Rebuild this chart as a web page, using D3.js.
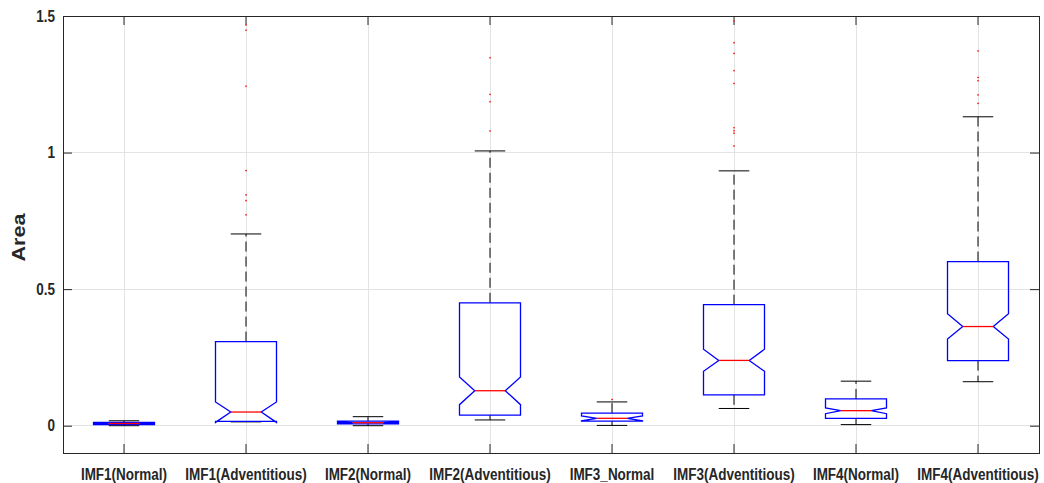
<!DOCTYPE html>
<html><head><meta charset="utf-8">
<script src="https://cdn.jsdelivr.net/npm/d3@7"></script>
<style>body{margin:0;background:#fff}text{font-family:"Liberation Sans",Arial,sans-serif;font-weight:bold;fill:#262626}</style>
</head><body><svg id="c" width="1044" height="483"></svg>
<script>
const categories = ["IMF1(Normal)","IMF1(Adventitious)","IMF2(Normal)","IMF2(Adventitious)","IMF3_Normal","IMF3(Adventitious)","IMF4(Normal)","IMF4(Adventitious)"];
const whiskerLow  = [0.000, 0.014, 0.000, 0.021, 0.001, 0.063, 0.004, 0.161];
const q1          = [0.004, 0.016, 0.007, 0.039, 0.017, 0.113, 0.027, 0.238];
const notchLow    = [0.006, 0.012, 0.009, 0.077, 0.018, 0.199, 0.044, 0.317];
const median      = [0.008, 0.050, 0.011, 0.128, 0.027, 0.239, 0.055, 0.363];
const notchHigh   = [0.010, 0.087, 0.013, 0.178, 0.036, 0.280, 0.065, 0.410];
const q3          = [0.012, 0.308, 0.017, 0.450, 0.046, 0.443, 0.098, 0.601];
const whiskerHigh = [0.018, 0.702, 0.033, 1.006, 0.087, 0.933, 0.163, 1.131];
const outliers = [
  [],
  [1.467, 1.448, 1.243, 0.934, 0.845, 0.824, 0.772],
  [],
  [1.347, 1.213, 1.186, 1.079],
  [0.096],
  [1.482, 1.402, 1.363, 1.300, 1.253, 1.091, 1.080, 1.071, 1.024],
  [],
  [1.372, 1.275, 1.263, 1.211, 1.180]
];
const yTicks = [0, 0.5, 1, 1.5];
const yTickLabels = ["0", "0.5", "1", "1.5"];
const yTitle = "Area";

const svg = d3.select("#c");
const L = 63, R = 1039, T = 16, B = 453;
const x = d3.scaleBand().domain(categories).range([L, R]).paddingInner(0).paddingOuter(0);
const y = d3.scaleLinear().domain([-0.1, 1.5]).range([B, T]);
const cx = c => x(c) + x.bandwidth() / 2;
const w = x.bandwidth() * 0.25, nw = w / 2, capW = w / 2;

// grid
const g = svg.append("g");
g.selectAll(".gy").data(yTicks).join("line")
  .attr("x1", L).attr("x2", R).attr("y1", d => y(d)).attr("y2", d => y(d))
  .attr("stroke", "#e3e3e3").attr("stroke-width", 1).attr("shape-rendering", "crispEdges");
g.selectAll(".gx").data(categories).join("line")
  .attr("x1", d => cx(d)).attr("x2", d => cx(d)).attr("y1", T).attr("y2", B)
  .attr("stroke", "#e3e3e3").attr("stroke-width", 1).attr("shape-rendering", "crispEdges");

// axes
const axL = svg.append("g").attr("transform", `translate(${L},0)`)
  .call(d3.axisLeft(y).tickValues(yTicks).tickFormat((d, i) => yTickLabels[i]).tickSizeInner(-9).tickSizeOuter(0).tickPadding(8));
const axR = svg.append("g").attr("transform", `translate(${R},0)`)
  .call(d3.axisRight(y).tickValues(yTicks).tickFormat("").tickSizeInner(-9).tickSizeOuter(0));
const axB = svg.append("g").attr("transform", `translate(0,${B})`)
  .call(d3.axisBottom(x).tickSizeInner(-9).tickSizeOuter(0).tickPadding(13));
const axT = svg.append("g").attr("transform", `translate(0,${T})`)
  .call(d3.axisTop(x).tickFormat("").tickSizeInner(-9).tickSizeOuter(0));
[axL, axR, axB, axT].forEach(a => {
  a.select(".domain").remove();
  a.selectAll("line").attr("stroke", "#262626");
});
axL.selectAll(".tick text").attr("font-size", 13.5).attr("fill", "#262626").attr("dy", "0.32em")
  .attr("transform", "scale(1,1.2)");
axB.selectAll("text").attr("font-size", 13.5).attr("fill", "#262626").attr("dy", "0.71em")
  .attr("transform", "scale(1,1.2)");
svg.append("rect").attr("x", L).attr("y", T).attr("width", R - L).attr("height", B - T)
  .attr("fill", "none").attr("stroke", "#262626").attr("stroke-width", 1).attr("shape-rendering", "crispEdges");

svg.append("text").attr("transform", `translate(25,${(T + B) / 2 + 3}) rotate(-90) scale(1.2,1)`)
  .attr("text-anchor", "middle").attr("font-size", 18).text(yTitle);

// boxes
const bx = svg.append("g");
categories.forEach((c, i) => {
  const xc = cx(c);
  bx.append("line").attr("x1", xc).attr("x2", xc).attr("y1", y(q3[i])).attr("y2", y(whiskerHigh[i]))
    .attr("stroke", "#000").attr("stroke-dasharray", "10,5").attr("stroke-width", 1);
  bx.append("line").attr("x1", xc).attr("x2", xc).attr("y1", y(q1[i])).attr("y2", y(whiskerLow[i]))
    .attr("stroke", "#000").attr("stroke-dasharray", "10,5").attr("stroke-width", 1);
  [whiskerHigh[i], whiskerLow[i]].forEach(v => {
    bx.append("line").attr("x1", xc - capW).attr("x2", xc + capW).attr("y1", y(v)).attr("y2", y(v))
      .attr("stroke", "#000").attr("stroke-width", 1);
  });
  const pts = [
    [xc - w, y(q1[i])], [xc - w, y(notchLow[i])], [xc - nw, y(median[i])], [xc - w, y(notchHigh[i])],
    [xc - w, y(q3[i])], [xc + w, y(q3[i])], [xc + w, y(notchHigh[i])], [xc + nw, y(median[i])],
    [xc + w, y(notchLow[i])], [xc + w, y(q1[i])]
  ];
  bx.append("path").attr("d", d3.line()(pts) + "Z").attr("fill", "none")
    .attr("stroke", "#0000ff").attr("stroke-width", 1.3).attr("stroke-linejoin", "miter");
  bx.append("line").attr("x1", xc - nw).attr("x2", xc + nw).attr("y1", y(median[i])).attr("y2", y(median[i]))
    .attr("stroke", "#ff0000").attr("stroke-width", 1.3);
  outliers[i].forEach(v => {
    bx.append("line").attr("x1", xc - 1).attr("x2", xc + 1).attr("y1", y(v)).attr("y2", y(v))
      .attr("stroke", "#ff3030").attr("stroke-width", 1);
    bx.append("line").attr("x1", xc).attr("x2", xc).attr("y1", y(v) - 1).attr("y2", y(v) + 1)
      .attr("stroke", "#ff3030").attr("stroke-width", 0.6);
  });
});
</script></body></html>
